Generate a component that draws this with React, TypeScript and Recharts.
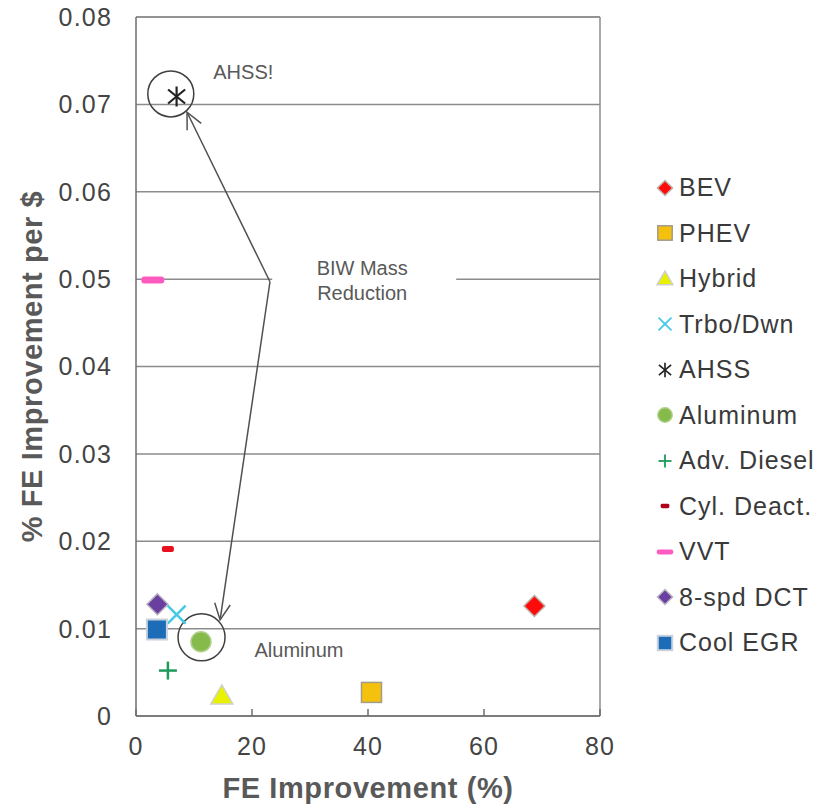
import React from 'react';
import {
  ScatterChart,
  Scatter,
  XAxis,
  YAxis,
  CartesianGrid,
  Legend,
  ReferenceLine,
  ReferenceDot,
  Label,
} from 'recharts';

// one point per technology
const seriesNames = [
  'BEV',
  'PHEV',
  'Hybrid',
  'Trbo/Dwn',
  'AHSS',
  'Aluminum',
  'Adv. Diesel',
  'Cyl. Deact.',
  'VVT',
  '8-spd DCT',
  'Cool EGR',
];
const feImprovement = [68.7, 40.6, 14.8, 7.0, 7.0, 11.2, 5.5, 5.5, 2.9, 3.7, 3.6];
const fePerDollar = [0.0126, 0.0027, 0.0023, 0.0116, 0.0709, 0.0085, 0.0052, 0.0191, 0.0499, 0.0128, 0.0099];

const xTicks = [0, 20, 40, 60, 80];
const yTicks = [0, 0.01, 0.02, 0.03, 0.04, 0.05, 0.06, 0.07, 0.08];

const FONT = '"Liberation Sans", Arial, sans-serif';
const AXIS = '#6e6e6e';
const GRID = '#8c8c8c';
const NOTE = '#595959';

const diamond = (cx: number, cy: number, h: number) =>
  `${cx},${cy - h} ${cx + h},${cy} ${cx},${cy + h} ${cx - h},${cy}`;

const Marker = ({ name, cx, cy, s = 1 }: { name: string; cx: number; cy: number; s?: number }) => {
  switch (name) {
    case 'BEV':
      return <polygon points={diamond(cx, cy, 10.5 * s)} fill="#ff0a0a" stroke="#bcb2a8" strokeWidth={1.5} />;
    case 'PHEV':
      return (
        <rect x={cx - 10 * s} y={cy - 10 * s} width={20 * s} height={20 * s} fill="#f4c20d" stroke="#a39c8a" strokeWidth={1.5} />
      );
    case 'Hybrid':
      return (
        <polygon
          points={`${cx},${cy - 11 * s} ${cx + 11 * s},${cy + 8 * s} ${cx - 11 * s},${cy + 8 * s}`}
          fill="#e8f200"
          stroke="#cfcfcf"
          strokeWidth={1.5}
        />
      );
    case 'Trbo/Dwn':
      return (
        <g stroke="#46c9e6" strokeWidth={2.5 * Math.max(s, 0.7)}>
          <line x1={cx - 9 * s} y1={cy - 9 * s} x2={cx + 9 * s} y2={cy + 9 * s} />
          <line x1={cx - 9 * s} y1={cy + 9 * s} x2={cx + 9 * s} y2={cy - 9 * s} />
        </g>
      );
    case 'AHSS':
      return (
        <g stroke="#222" strokeWidth={2.2 * Math.max(s, 0.75)}>
          <line x1={cx} y1={cy - 10 * s} x2={cx} y2={cy + 10 * s} />
          <line x1={cx - 8.5 * s} y1={cy - 7 * s} x2={cx + 8.5 * s} y2={cy + 7 * s} />
          <line x1={cx - 8.5 * s} y1={cy + 7 * s} x2={cx + 8.5 * s} y2={cy - 7 * s} />
        </g>
      );
    case 'Aluminum':
      return <circle cx={cx} cy={cy} r={10 * s} fill="#86ba4a" stroke="#aed088" strokeWidth={1.5} />;
    case 'Adv. Diesel':
      return (
        <g stroke="#1f9a5a" strokeWidth={2.5 * Math.max(s, 0.7)}>
          <line x1={cx - 9 * s} y1={cy} x2={cx + 9 * s} y2={cy} />
          <line x1={cx} y1={cy - 9 * s} x2={cx} y2={cy + 9 * s} />
        </g>
      );
    case 'Cyl. Deact.':
      return <rect x={cx - 6 * s} y={cy - 3 * s} width={12 * s} height={6 * s} rx={2 * s} fill={s < 1 ? '#b0001a' : '#e8101e'} />;
    case 'VVT':
      return <rect x={cx - 11.5 * s} y={cy - 3.5 * s} width={23 * s} height={7 * s} rx={3 * s} fill="#ff5ac0" />;
    case '8-spd DCT':
      return <polygon points={diamond(cx, cy, 10.5 * s)} fill="#6a3fa0" stroke="#b9b2c2" strokeWidth={1.5} />;
    case 'Cool EGR':
      return (
        <rect x={cx - 10 * s} y={cy - 10 * s} width={20 * s} height={20 * s} fill="#1c6cb8" stroke="#c9d1dc" strokeWidth={2} />
      );
    default:
      return null;
  }
};

const XTick = (props: any) => {
  const { x, y, payload } = props;
  return (
    <g>
      <line x1={x} y1={y} x2={x} y2={y - 7} stroke={AXIS} strokeWidth={1.5} />
      <text
        x={x}
        y={y + 30}
        textAnchor="middle"
        dominantBaseline="central"
        fontSize={25}
        letterSpacing={1.2}
        fontFamily={FONT}
        fill="#444"
      >
        {payload.value}
      </text>
    </g>
  );
};

const Arrow = (p: any) => {
  const { x1, y1, x2, y2 } = p;
  const ang = Math.atan2(y2 - y1, x2 - x1);
  const L = 18;
  const A = 0.45;
  const ax = x2 - L * Math.cos(ang - A);
  const ay = y2 - L * Math.sin(ang - A);
  const bx = x2 - L * Math.cos(ang + A);
  const by = y2 - L * Math.sin(ang + A);
  return (
    <g stroke="#505050" strokeWidth={1.5} fill="none">
      <line x1={x1} y1={y1} x2={x2} y2={y2} />
      <polyline points={`${ax},${ay} ${x2},${y2} ${bx},${by}`} />
    </g>
  );
};

const noteText = (text: string) => (p: any) => (
  <text x={p.cx} y={p.cy} textAnchor="middle" dominantBaseline="central" fontSize={20} fontFamily={FONT} fill={NOTE}>
    {text}
  </text>
);

const BiwNote = (p: any) => (
  <g>
    <rect x={p.cx - 90} y={p.cy - 26} width={184} height={52} fill="#fff" />
    <text x={p.cx} y={p.cy - 13} textAnchor="middle" dominantBaseline="central" fontSize={20} fontFamily={FONT} fill={NOTE}>
      BIW Mass
    </text>
    <text x={p.cx} y={p.cy + 12} textAnchor="middle" dominantBaseline="central" fontSize={20} fontFamily={FONT} fill={NOTE}>
      Reduction
    </text>
  </g>
);

const renderLegend = () => (
  <div style={{ fontFamily: FONT, fontSize: 25, letterSpacing: 1, color: '#3a3a3a' }}>
    {seriesNames.map((n) => (
      <div key={n} style={{ height: 45.5, display: 'flex', alignItems: 'center', whiteSpace: 'nowrap' }}>
        <svg width={24} height={24} style={{ flex: 'none' }}>
          <Marker name={n} cx={12} cy={12} s={0.72} />
        </svg>
        <span style={{ marginLeft: 2 }}>{n}</span>
      </div>
    ))}
  </div>
);

export default function App() {
  return (
    <div style={{ margin: '-8px 0 0 -8px', width: 828, height: 809 }}>
      <ScatterChart width={828} height={809} margin={{ top: 17, right: 228, bottom: 0, left: 0 }}>
        <CartesianGrid vertical={false} stroke={GRID} strokeWidth={1.5} />
        <XAxis
          type="number"
          dataKey="x"
          domain={[0, 80]}
          ticks={xTicks}
          interval={0}
          height={93}
          tickSize={0}
          tickMargin={0}
          tickLine={false}
          tick={<XTick />}
          axisLine={{ stroke: AXIS, strokeWidth: 1.5 }}
        >
          <Label
            content={(p: any) => (
              <text
                x={p.viewBox.x + p.viewBox.width / 2}
                y={p.viewBox.y + 72}
                textAnchor="middle"
                dominantBaseline="central"
                fontSize={29}
                letterSpacing={0.6}
                fontWeight="bold"
                fontFamily={FONT}
                fill={NOTE}
              >
                FE Improvement (%)
              </text>
            )}
          />
        </XAxis>
        <YAxis
          type="number"
          dataKey="y"
          domain={[0, 0.08]}
          ticks={yTicks}
          interval={0}
          width={136}
          tickSize={0}
          tickMargin={24}
          tickLine={false}
          tickFormatter={(v: number) => (v === 0 ? '0' : v.toFixed(2))}
          tick={{ fontSize: 25, fontFamily: FONT, fill: '#444', letterSpacing: 1.2 }}
          axisLine={{ stroke: AXIS, strokeWidth: 1.5 }}
        >
          <Label
            content={(p: any) => {
              const cy = p.viewBox.y + p.viewBox.height / 2;
              return (
                <text
                  x={32}
                  y={cy}
                  transform={`rotate(-90 32 ${cy})`}
                  textAnchor="middle"
                  dominantBaseline="central"
                  fontSize={29}
                  letterSpacing={0.6}
                  fontWeight="bold"
                  fontFamily={FONT}
                  fill={NOTE}
                >
                  % FE Improvement per $
                </text>
              );
            }}
          />
        </YAxis>
        <ReferenceLine x={80} stroke={GRID} strokeWidth={1.5} />
        <ReferenceLine y={0.08} stroke={GRID} strokeWidth={1.5} />

        <ReferenceDot x={39} y={0.0498} r={1} shape={BiwNote} />
        <ReferenceDot x={18.5} y={0.0737} r={1} shape={noteText('AHSS!')} />
        <ReferenceDot x={28.1} y={0.0076} r={1} shape={noteText('Aluminum')} />

        <ReferenceLine segment={[{ x: 23.1, y: 0.0497 }, { x: 8.8, y: 0.0691 }]} shape={Arrow} />
        <ReferenceLine segment={[{ x: 23.1, y: 0.0497 }, { x: 14.5, y: 0.011 }]} shape={Arrow} />

        <ReferenceDot x={6.0} y={0.0712} r={23} fill="none" stroke="#404040" strokeWidth={1.5} />
        <ReferenceDot x={11.3} y={0.009} r={23.5} fill="none" stroke="#404040" strokeWidth={1.5} />

        {seriesNames.map((n, i) => (
          <Scatter
            key={n}
            name={n}
            data={[{ x: feImprovement[i], y: fePerDollar[i] }]}
            isAnimationActive={false}
            shape={(p: any) => <Marker name={n} cx={p.cx} cy={p.cy} />}
          />
        ))}

        <Legend
          layout="vertical"
          align="center"
          verticalAlign="middle"
          wrapperStyle={{ left: 653, top: 165, width: 175 }}
          content={renderLegend}
        />
      </ScatterChart>
    </div>
  );
}
